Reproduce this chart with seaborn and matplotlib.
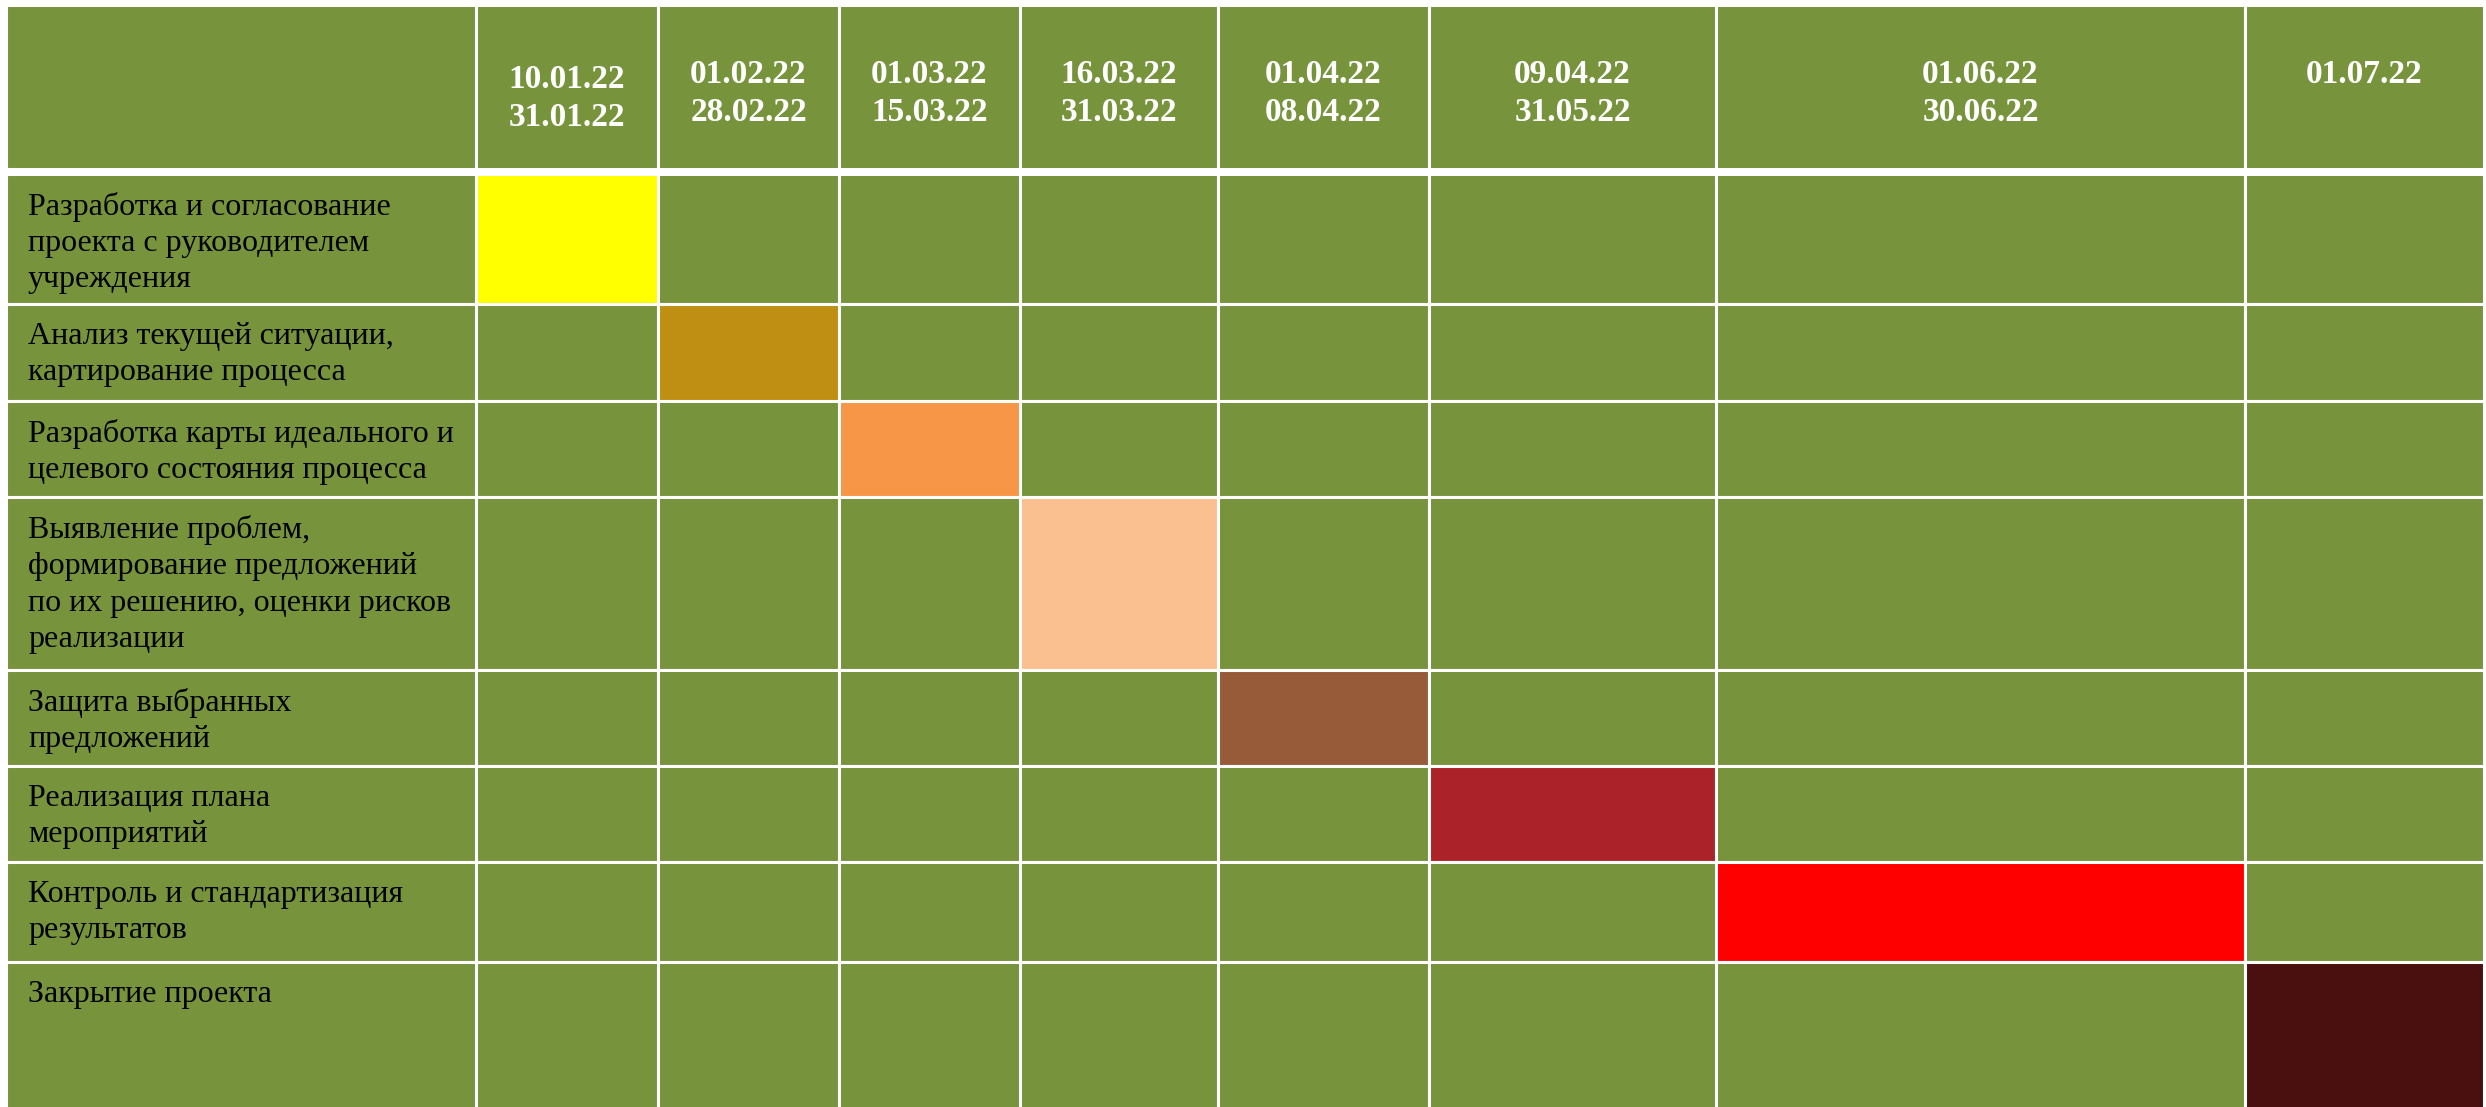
import numpy as np
import matplotlib
matplotlib.use("Agg")
import matplotlib.pyplot as plt
import seaborn as sns

# --- data -------------------------------------------------------------
periods = ["10.01.22\n31.01.22", "01.02.22\n28.02.22", "01.03.22\n15.03.22",
           "16.03.22\n31.03.22", "01.04.22\n08.04.22", "09.04.22\n31.05.22",
           "01.06.22\n30.06.22", "01.07.22"]

tasks = ["Разработка и согласование\nпроекта с руководителем\nучреждения",
         "Анализ текущей ситуации,\nкартирование процесса",
         "Разработка карты идеального и\nцелевого состояния процесса",
         "Выявление проблем,\nформирование предложений\nпо их решению, оценки рисков\nреализации",
         "Защита выбранных\nпредложений",
         "Реализация плана\nмероприятий",
         "Контроль и стандартизация\nрезультатов",
         "Закрытие проекта"]

task_period = [0, 1, 2, 3, 4, 5, 6, 7]
task_colors = ["#FFFF00", "#BF8F14", "#F79646", "#FAC090",
               "#985B3A", "#AB2328", "#FF0000", "#4A0F0F"]

# --- layout (pixels of the 2486x1107 canvas) ---------------------------
GREEN = "#77933C"
col_w = np.array([469.5, 182, 181, 181, 198, 211, 287, 529, 239])
col_left = 6.5 + np.concatenate([[0], np.cumsum(col_w)[:-1]])
header_top, header_h, gap = 4.5, 164, 5
row_h = np.array([130.5, 97, 96, 173, 96, 96, 100, 147])
row_top = header_top + header_h + gap + np.concatenate([[0], np.cumsum(row_h)[:-1]])

sns.set_theme(style="white")
plt.rcParams['font.family'] = ['Liberation Serif', 'DejaVu Serif']

fig = plt.figure(figsize=(24.86, 11.07), dpi=100)
ax = fig.add_axes([0, 0, 1, 1])
ax.set_xlim(0, 2486)
ax.set_ylim(1107, 0)
ax.axis('off')

# header row
ax.barh(header_top + header_h / 2, col_w, left=col_left, height=header_h,
        color=GREEN, edgecolor='white', linewidth=2.2)
for j, lab in enumerate(periods):
    k = j + 1
    y = 64 if j == 0 else 59
    ax.text(col_left[k] + col_w[k] / 2, y, lab, ha='center', va='top',
            fontsize=24, fontweight='bold', color='white', linespacing=1.3)

# task rows
for i, task in enumerate(tasks):
    colors = [GREEN] * len(col_w)
    colors[task_period[i] + 1] = task_colors[i]
    ax.barh(row_top[i] + row_h[i] / 2, col_w, left=col_left, height=row_h[i],
            color=colors, edgecolor='white', linewidth=2.2)
    ax.text(28, row_top[i] + 18, task, ha='left', va='top',
            fontsize=23, color='black', linespacing=1.34)

fig.savefig("out.png", dpi=100, facecolor='white')
